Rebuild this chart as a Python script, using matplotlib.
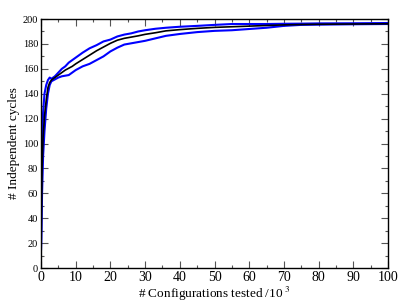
import matplotlib
matplotlib.use("Agg")
import matplotlib.pyplot as plt
from matplotlib.ticker import MultipleLocator

plt.rcParams["font.family"] = ["Liberation Serif", "DejaVu Serif"]
plt.rcParams["mathtext.fontset"] = "stix"

# configurations tested (x10^3)
configs = [0, 0.1, 0.3, 0.6, 1.0, 1.5, 2.0, 2.5, 3.0, 4.0, 5.0, 6, 7, 8, 9, 10,
           12, 14, 16, 18, 20, 22, 24, 26, 28, 30, 33, 36, 40, 45, 50, 55, 60,
           65, 70, 75, 80, 90, 100]
mean_cycles = [15, 40, 80, 105, 122, 135, 145, 149, 151, 153, 155, 157, 159,
               160.5, 162, 164, 167.5, 171, 174.5, 177.5, 180.5, 183, 184.5,
               185.5, 186.5, 187.7, 189, 190.5, 191.5, 192.5, 193.3, 193.8,
               194.3, 194.8, 195.3, 195.6, 195.8, 196, 196.2]
upper_cycles = [15, 55, 100, 125, 140, 147, 151, 153, 152, 154, 157, 160, 162,
                165, 167, 169, 173, 176.5, 179, 182, 183.5, 186, 187.5, 188.5,
                190, 191, 192.2, 193, 193.8, 194.5, 195.3, 196, 196, 196,
                196.2, 196.3, 196.5, 196.6, 196.8]
lower_cycles = [15, 25, 60, 90, 110, 128, 140, 147, 150, 151.5, 153, 154,
                154.5, 155, 157, 159, 162, 164, 167, 170, 174, 177, 179.5,
                180.5, 181.5, 182.5, 184.5, 186.5, 188, 189.5, 190.5, 191, 192,
                193, 194.5, 195.3, 195.5, 195.8, 196]

fig = plt.figure(figsize=(3.99, 3.07), dpi=100)
ax = fig.add_axes([0.1028, 0.127, 0.8696, 0.811])

ax.plot(configs, upper_cycles, color="#0000ff", lw=1.5)
ax.plot(configs, lower_cycles, color="#0000ff", lw=1.5)
ax.plot(configs, mean_cycles, color="black", lw=1.2)

ax.set_xlim(0, 100)
ax.set_ylim(0, 200)
ax.xaxis.set_major_locator(MultipleLocator(10))
ax.xaxis.set_minor_locator(MultipleLocator(5))
ax.yaxis.set_major_locator(MultipleLocator(20))
ax.yaxis.set_minor_locator(MultipleLocator(10))
ax.tick_params(which="both", direction="in", top=True, right=True, color="#555555")
ax.tick_params(which="major", length=5, width=0.8)
ax.tick_params(which="minor", length=2.5, width=0.8)
ax.tick_params(axis="x", labelsize=10, pad=2)
ax.tick_params(axis="y", labelsize=7.5, pad=2)
for s in ax.spines.values():
    s.set_linewidth(1.0)

ax.set_xlabel("# Configurations tested /10$^{\\,\\,3}$", fontsize=9.5, labelpad=1)
ax.set_ylabel("# Independent cycles", fontsize=9.5, labelpad=2)

fig.savefig("out.png", dpi=100)
